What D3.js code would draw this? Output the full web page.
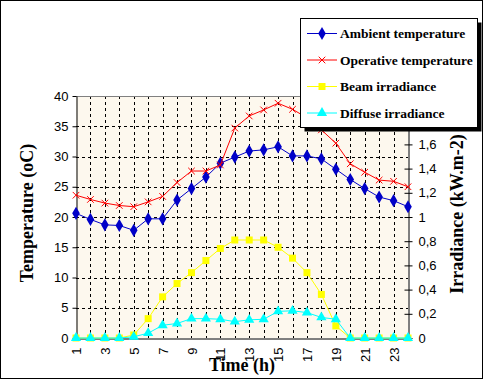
<!DOCTYPE html>
<html>
<head>
<meta charset="utf-8">
<script src="https://cdn.jsdelivr.net/npm/d3@7"></script>
<style>
body { margin: 0; background: #fff; }
.tick text { font-family: "Liberation Sans", Arial, sans-serif; font-size: 13px; }
</style>
</head>
<body>
<script>
// hours of the day
var hours = d3.range(1, 25);
// temperatures (oC), left axis
var ambient = [20.6, 19.6, 18.7, 18.6, 17.8, 19.7, 19.7, 22.8, 24.7, 26.6, 28.9, 29.9,
               30.9, 31.1, 31.6, 30.1, 30.1, 29.6, 27.9, 26.2, 24.7, 23.3, 22.7, 21.7];
var operative = [23.6, 22.9, 22.3, 21.9, 21.7, 22.5, 23.4, 25.7, 27.6, 27.6, 28.6, 34.7,
                 36.7, 37.7, 38.8, 37.8, 36.4, 34.4, 32.2, 28.8, 27.4, 26.1, 25.9, 25.0];
// irradiance (kW.m-2), right axis
var beam = [0, 0, 0, 0, 0.025, 0.16, 0.34, 0.45, 0.54, 0.64, 0.74, 0.81,
            0.81, 0.81, 0.75, 0.66, 0.54, 0.36, 0.10, 0, 0, 0, 0, 0];
var diffuse = [0, 0, 0, 0, 0.01, 0.04, 0.105, 0.12, 0.16, 0.16, 0.155, 0.135,
               0.15, 0.155, 0.22, 0.225, 0.21, 0.17, 0.155, 0, 0, 0, 0, 0];
var tempTicks = [0, 5, 10, 15, 20, 25, 30, 35, 40];
var irrTicks = [0, 0.2, 0.4, 0.6, 0.8, 1, 1.2, 1.4, 1.6]; // 1,8 and 2 sit under the legend
var legendNames = ["Ambient temperature", "Operative temperature", "Beam irradiance", "Diffuse irradiance"];

var width = 490, height = 380;
var plotL = 76, plotR = 408, plotT = 96, plotB = 338;
var serif = "'Liberation Serif', 'DejaVu Serif', 'Times New Roman', Times, serif";

var svg = d3.select("body").append("svg")
    .attr("width", width)
    .attr("height", height);

//outer frame
svg.append("rect")
    .attr("x", 0.5).attr("y", 0.5)
    .attr("width", 482).attr("height", 378)
    .attr("fill", "#fff").attr("stroke", "#000");

var x = d3.scaleLinear().domain([1, 24]).range([plotL, plotR]);
var yT = d3.scaleLinear().domain([0, 40]).range([plotB, plotT]);
var yI = d3.scaleLinear().domain([0, 2]).range([plotB, plotT]);

//plot background
svg.append("rect")
    .attr("x", plotL).attr("y", plotT)
    .attr("width", plotR - plotL).attr("height", plotB - plotT)
    .attr("fill", "#fdf8ee");

//grid lines
svg.selectAll(".hgrid")
    .data(tempTicks.slice(1, -1))
    .enter().append("line")
    .attr("x1", plotL).attr("x2", plotR)
    .attr("y1", function(d){ return Math.round(yT(d)) + 0.5; })
    .attr("y2", function(d){ return Math.round(yT(d)) + 0.5; })
    .attr("stroke", "#000").attr("stroke-dasharray", "3,3");
svg.selectAll(".vgrid")
    .data(hours.slice(1, -1))
    .enter().append("line")
    .attr("y1", plotT).attr("y2", plotB)
    .attr("x1", function(d){ return Math.round(x(d)) + 0.5; })
    .attr("x2", function(d){ return Math.round(x(d)) + 0.5; })
    .attr("stroke", "#000").attr("stroke-dasharray", "3,3");

//top border of plot
svg.append("line")
    .attr("x1", plotL).attr("x2", plotR)
    .attr("y1", plotT + 0.5).attr("y2", plotT + 0.5)
    .attr("stroke", "#808080");

//left axis
var leftAxis = svg.append("g")
    .attr("transform", "translate(" + (plotL + 0.5) + ",0)")
    .call(d3.axisLeft(yT).tickValues(tempTicks).tickSize(4).tickPadding(4).tickSizeOuter(0));
//right axis
var rightAxis = svg.append("g")
    .attr("transform", "translate(" + (plotR + 0.5) + ",0)")
    .call(d3.axisRight(yI).tickValues(irrTicks).tickSize(4).tickPadding(6).tickSizeOuter(0)
        .tickFormat(function(d){ return d3.format("~g")(d).replace(".", ","); }));
rightAxis.selectAll(".tick line").attr("x1", -4);
//bottom axis
var bottomAxis = svg.append("g")
    .attr("transform", "translate(0," + (plotB + 0.5) + ")")
    .call(d3.axisBottom(x).tickValues(hours.filter(function(d){ return d % 2 == 1; }))
        .tickSize(0).tickFormat(d3.format("d")).tickSizeOuter(0));
bottomAxis.selectAll(".tick text")
    .attr("transform", "rotate(-90)")
    .attr("text-anchor", "end")
    .attr("x", -9).attr("y", 0).attr("dy", "0.35em");
[leftAxis, rightAxis, bottomAxis].forEach(function(a){
    a.selectAll("path, line").attr("stroke", "#000");
    a.selectAll("text").attr("fill", "#000");
});

//series
var series = [
    {vals: ambient, scale: yT, color: "#0000c8", marker: "diamond"},
    {vals: operative, scale: yT, color: "#ff0000", marker: "cross"},
    {vals: beam, scale: yI, color: "#ffff00", marker: "square"},
    {vals: diffuse, scale: yI, color: "#00ffff", marker: "triangle"}
];
var symbols = {
    diamond: d3.symbol().type(d3.symbolDiamond).size(50),
    square: d3.symbol().type(d3.symbolSquare).size(49),
    triangle: d3.symbol().type(d3.symbolTriangle).size(45),
    cross: d3.symbol().type(d3.symbolX).size(30)
};
function drawMarker(g, s){
    if (s.marker == "cross"){
        g.append("path").attr("d", symbols.cross()).attr("fill", "none").attr("stroke", s.color).attr("stroke-width", 1);
    } else {
        g.append("path").attr("d", symbols[s.marker]()).attr("fill", s.color);
    }
}

series.forEach(function(s){
    var line = d3.line()
        .x(function(d, i){ return x(hours[i]); })
        .y(function(d){ return s.scale(d); });
    svg.append("path")
        .datum(s.vals)
        .attr("d", line)
        .attr("fill", "none")
        .attr("stroke", s.color)
        .attr("stroke-width", 1);
    svg.selectAll(null)
        .data(s.vals)
        .enter().append("g")
        .attr("transform", function(d, i){ return "translate(" + x(hours[i]) + "," + s.scale(d) + ")"; })
        .each(function(){ drawMarker(d3.select(this), s); });
});

//axis titles
svg.append("text")
    .attr("transform", "translate(33,213) rotate(-90)")
    .attr("text-anchor", "middle")
    .attr("font-family", serif).attr("font-weight", "bold")
    .attr("font-size", 18)
    .text("Temperature (oC)");
svg.append("text")
    .attr("transform", "translate(463,214) rotate(-90)")
    .attr("text-anchor", "middle")
    .attr("font-family", serif).attr("font-weight", "bold")
    .attr("font-size", 18)
    .text("Irradiance (kW.m-2)");
svg.append("text")
    .attr("x", 242).attr("y", 371)
    .attr("text-anchor", "middle")
    .attr("font-family", serif).attr("font-weight", "bold")
    .attr("font-size", 18)
    .text("Time (h)");

//legend
var legend = svg.append("g").attr("transform", "translate(300,18)");
legend.append("rect")
    .attr("x", 4.5).attr("y", 4.5).attr("width", 177).attr("height", 109)
    .attr("fill", "#000");
legend.append("rect")
    .attr("x", 0.5).attr("y", 0.5).attr("width", 177).attr("height", 109)
    .attr("fill", "#fff").attr("stroke", "#000");
legendNames.forEach(function(name, i){
    var s = series[i];
    var item = legend.append("g").attr("transform", "translate(0," + (15 + i * 26.5) + ")");
    item.append("line")
        .attr("x1", 7).attr("x2", 37).attr("y1", 0.5).attr("y2", 0.5)
        .attr("stroke", s.color);
    drawMarker(item.append("g").attr("transform", "translate(22,0.5)"), s);
    item.append("text")
        .attr("x", 40).attr("y", 5)
        .attr("font-family", serif).attr("font-weight", "bold")
        .attr("font-size", 13.5)
        .text(name);
});
</script>
</body>
</html>
